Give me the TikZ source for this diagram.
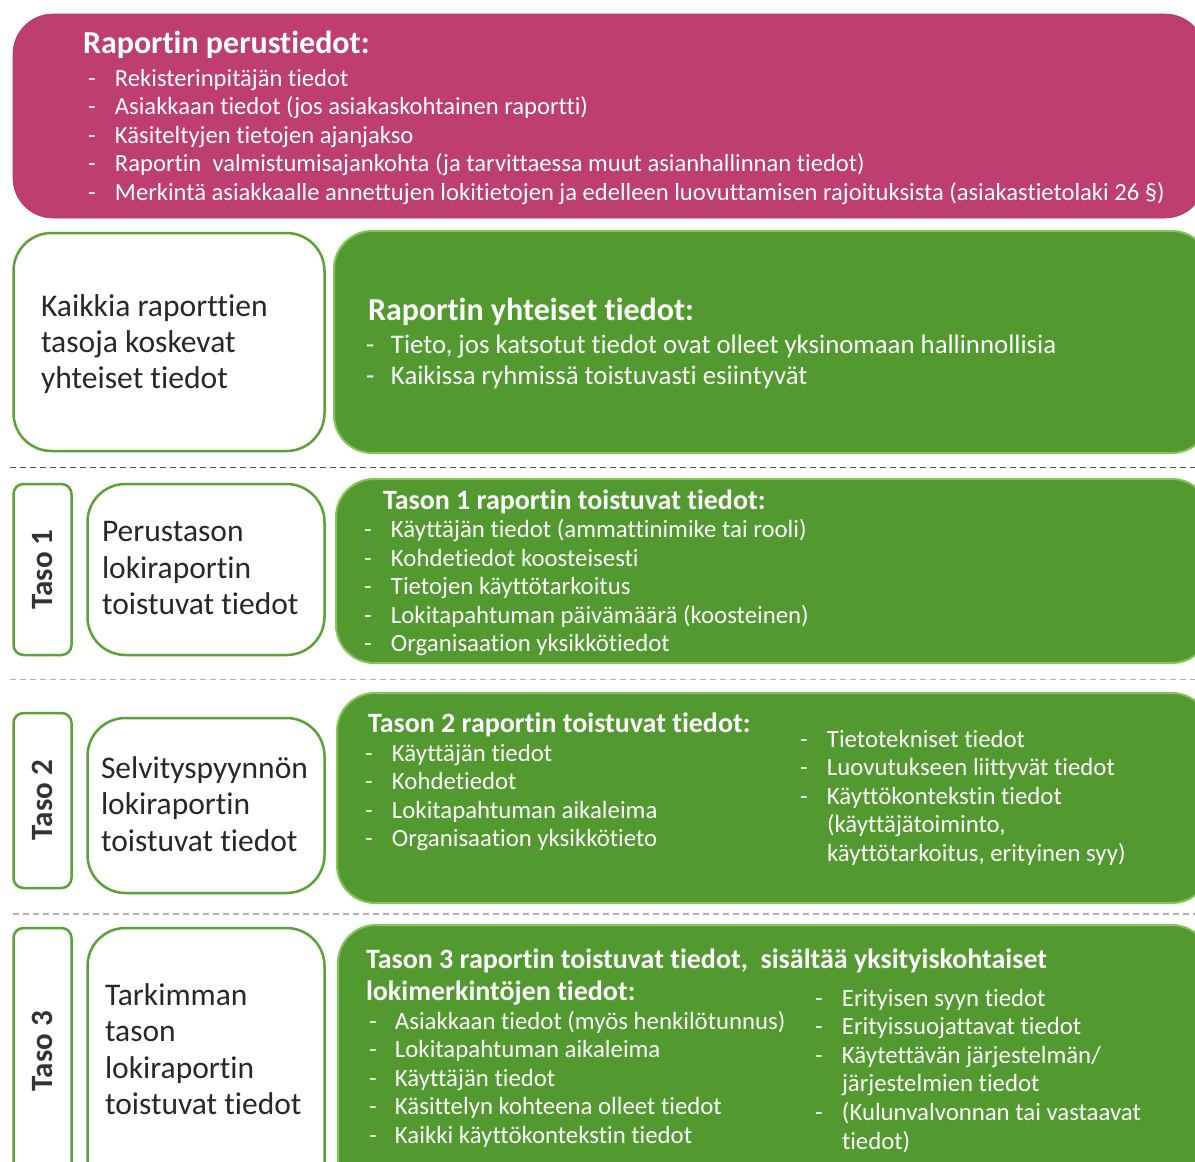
\documentclass[tikz,border=0pt]{standalone}
\usepackage{fontspec}
\setmainfont{Carlito}[Ligatures={NoCommon}]
\definecolor{pinkc}{RGB}{190,63,111}
\definecolor{greenc}{RGB}{82,154,48}
\definecolor{greenedge}{RGB}{135,196,88}
\definecolor{boxedge}{RGB}{92,160,56}
\definecolor{darktext}{RGB}{40,40,40}
\newcommand\fsz[2]{\fontsize{#1}{#2}\selectfont}
\tikzset{
  pinkbox/.style={fill=pinkc, draw=pinkc!90!black, line width=0.6, rounded corners=40},
  greenbox/.style={fill=greenc, draw=greenedge, line width=2, rounded corners=38},
  whitebox/.style={fill=white, draw=boxedge, line width=2.5, rounded corners=38},
  tasobox/.style={fill=white, draw=boxedge, line width=2.5, rounded corners=10},
  sepdark/.style={draw=black!70, line width=1.2, dash pattern=on 6pt off 4pt},
  seplight/.style={draw=black!30, line width=1.2, dash pattern=on 6pt off 4pt},
  txt/.style={anchor=base west, inner sep=0, outer sep=0, align=left},
  wtxt/.style={txt, text=white},
  dtxt/.style={txt, text=darktext},
  tasolbl/.style={rotate=90, inner sep=0, text=black!80, font=\bfseries\fsz{31}{36}},
}
\begin{document}
\begin{tikzpicture}[x=1pt,y=-1pt]
\useasboundingbox (0,0) rectangle (1195,1162);
\clip (0,0) rectangle (1195,1162);
\fill[white] (0,0) rectangle (1195,1162);

% ---------- boxes ----------
\path[pinkbox] (13,14) rectangle (1205,218);
\path[whitebox] (13.5,233) rectangle (324.5,451);
\path[greenbox] (334,231) rectangle (1210,453);
\draw[sepdark] (10,467.5) -- (1195,467.5);

\path[tasobox] (13.5,484) rectangle (71.5,655);
\path[whitebox] (87.5,484) rectangle (324.5,655);
\path[greenbox] (336,479) rectangle (1210,663);
\draw[seplight] (10,679.5) -- (1195,679.5);

\path[tasobox] (13.5,713) rectangle (71.5,888);
\path[whitebox] (87.5,718) rectangle (324.5,893);
\path[greenbox] (337,693) rectangle (1210,903);
\draw[seplight] (13,914) -- (1195,914);

\path[tasobox] (13.5,928) rectangle (71.5,1200);
\path[whitebox] (87.5,928) rectangle (324.5,1200);
\path[greenbox] (338,925) rectangle (1210,1200);

% ---------- pink text ----------
\node[wtxt, font=\bfseries\fsz{32}{36}] (ptitle) at (83,53) {Raportin perustiedot:};
\node[wtxt, font=\fsz{24.6}{28.5}] (plist) at (88,86) {\begin{tabular}[t]{@{}p{27pt}@{}l@{}}
-&Rekisterinpitäjän tiedot\\
-&Asiakkaan tiedot (jos asiakaskohtainen raportti)\\
-&Käsiteltyjen tietojen ajanjakso\\
-&Raportin\ \ valmistumisajankohta (ja tarvittaessa muut asianhallinnan tiedot)\\
-&Merkintä asiakkaalle annettujen lokitietojen ja edelleen luovuttamisen rajoituksista (asiakastietolaki 26 §)
\end{tabular}};

% ---------- common ----------
\node[dtxt, font=\fsz{31.6}{36.3}] (ctext) at (41,316) {\begin{tabular}[t]{@{}l@{}}
Kaikkia raporttien\\ tasoja koskevat\\ yhteiset tiedot\end{tabular}};
\node[wtxt, font=\bfseries\fsz{32}{36}] (ctitle) at (368,320) {Raportin yhteiset tiedot:};
\node[wtxt, font=\fsz{26.8}{31}] (clist) at (366,353) {\begin{tabular}[t]{@{}p{25pt}@{}l@{}}
-&Tieto, jos katsotut tiedot ovat olleet yksinomaan hallinnollisia\\
-&Kaikissa ryhmissä toistuvasti esiintyvät
\end{tabular}};

% ---------- Taso 1 ----------
\node[tasolbl] (t1) at (42.5,569.5) {Taso 1};
\node[dtxt, font=\fsz{31.5}{36.6}] (t1text) at (102,541.7) {\begin{tabular}[t]{@{}l@{}}
Perustason\\ lokiraportin\\ toistuvat tiedot\end{tabular}};
\node[wtxt, font=\bfseries\fsz{28}{30}] (t1title) at (383,509) {Tason 1 raportin toistuvat tiedot:};
\node[wtxt, font=\fsz{24.8}{28.6}] (t1list) at (364,537.5) {\begin{tabular}[t]{@{}p{27pt}@{}l@{}}
-&Käyttäjän tiedot (ammattinimike tai rooli)\\
-&Kohdetiedot koosteisesti\\
-&Tietojen käyttötarkoitus\\
-&Lokitapahtuman päivämäärä (koosteinen)\\
-&Organisaation yksikkötiedot
\end{tabular}};

% ---------- Taso 2 ----------
\node[tasolbl] (t2) at (42.5,800) {Taso 2};
\node[dtxt, font=\fsz{31.5}{36.6}] (t2text) at (101,778) {\begin{tabular}[t]{@{}l@{}}
Selvityspyynnön\\ lokiraportin\\ toistuvat tiedot\end{tabular}};
\node[wtxt, font=\bfseries\fsz{28}{30}] (t2title) at (368,732) {Tason 2 raportin toistuvat tiedot:};
\node[wtxt, font=\fsz{24.8}{28.6}] (t2list) at (365,761) {\begin{tabular}[t]{@{}p{27pt}@{}l@{}}
-&Käyttäjän tiedot\\
-&Kohdetiedot\\
-&Lokitapahtuman aikaleima\\
-&Organisaation yksikkötieto
\end{tabular}};
\node[wtxt, font=\fsz{24.8}{28.6}] (t2list2) at (800,747) {\begin{tabular}[t]{@{}p{27pt}@{}l@{}}
-&Tietotekniset tiedot\\
-&Luovutukseen liittyvät tiedot\\
-&Käyttökontekstin tiedot\\
&(käyttäjätoiminto,\\
&käyttötarkoitus, erityinen syy)
\end{tabular}};

% ---------- Taso 3 ----------
\node[tasolbl] (t3) at (42.5,1051) {Taso 3};
\node[dtxt, font=\fsz{31.5}{36.5}] (t3text) at (105,1005) {\begin{tabular}[t]{@{}l@{}}
Tarkimman\\ tason\\ lokiraportin\\ toistuvat tiedot\end{tabular}};
\node[wtxt, font=\bfseries\fsz{28}{32.5}] (t3title) at (366,968) {\begin{tabular}[t]{@{}l@{}}
Tason 3 raportin toistuvat tiedot,\ \ sisältää yksityiskohtaiset\\
lokimerkintöjen tiedot:\end{tabular}};
\node[wtxt, font=\fsz{24.8}{28.6}] (t3list) at (369,1029) {\begin{tabular}[t]{@{}p{26pt}@{}l@{}}
-&Asiakkaan tiedot (myös henkilötunnus)\\
-&Lokitapahtuman aikaleima\\
-&Käyttäjän tiedot\\
-&Käsittelyn kohteena olleet tiedot\\
-&Kaikki käyttökontekstin tiedot
\end{tabular}};
\node[wtxt, font=\fsz{24.8}{28.6}] (t3list2) at (815,1006) {\begin{tabular}[t]{@{}p{27pt}@{}l@{}}
-&Erityisen syyn tiedot\\
-&Erityissuojattavat tiedot\\
-&Käytettävän järjestelmän/\\
&järjestelmien tiedot\\
-&(Kulunvalvonnan tai vastaavat\\
&tiedot)
\end{tabular}};
\end{tikzpicture}
\end{document}
